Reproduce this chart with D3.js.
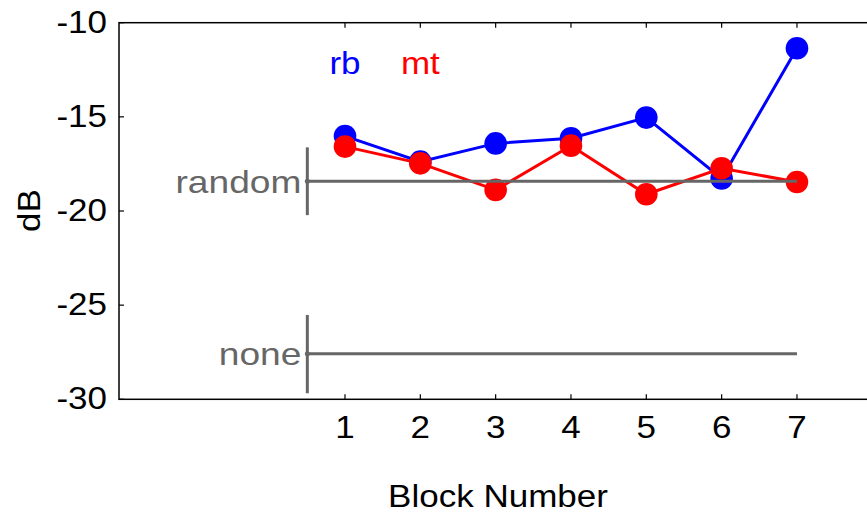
<!DOCTYPE html>
<html>
<head>
<meta charset="utf-8">
<script src="https://cdn.jsdelivr.net/npm/d3@7"></script>
<style>
  body { margin: 0; background: #fff; }
  text { font-family: "Liberation Sans", Arial, sans-serif; }
</style>
</head>
<body>
<div id="chart"></div>
<script>
// data
const blocks = [1, 2, 3, 4, 5, 6, 7];
const rbValues = [-16.02, -17.38, -16.41, -16.14, -15.04, -18.27, -11.36];
const mtValues = [-16.58, -17.47, -18.88, -16.53, -19.11, -17.73, -18.46];
const refNames = ["random", "none"];
const refValues = [-18.42, -27.58];
const refLow = [-20.22, -29.68];
const refHigh = [-16.62, -25.52];
const refStart = 0.5, refEnd = 7;
const yTicks = [-10, -15, -20, -25, -30];

// layout
const W = 867, H = 514;
const margin = { top: 22.7, left: 119 };
const xScale = d3.scaleLinear().domain([-2, 9]).range([margin.left, margin.left + 11 * 75.33]);
const yScale = d3.scaleLinear().domain([-10, -30]).range([margin.top, 399.3]);
const fontSize = 31;
const stretch = 1.13; // fonts in the picture are drawn a bit wider than normal

const svg = d3.select("#chart").append("svg")
  .attr("width", W).attr("height", H);

function label(x, y, txt, opts) {
  opts = opts || {};
  return svg.append("text")
    .attr("transform", "translate(" + x + "," + y + ")" + (opts.rotate ? " rotate(" + opts.rotate + ")" : "") + " scale(" + (opts.stretch || stretch) + ",1)")
    .attr("text-anchor", opts.anchor || "middle")
    .style("font-size", (opts.size || fontSize) + "px")
    .style("fill", opts.color || "#000")
    .text(txt);
}

// axes box
const x0 = xScale.range()[0], x1 = xScale.range()[1];
const y0 = yScale.range()[0], y1 = yScale.range()[1];
svg.append("rect")
  .attr("x", x0).attr("y", y0)
  .attr("width", x1 - x0).attr("height", y1 - y0)
  .attr("fill", "none").attr("stroke", "#000").attr("stroke-width", 1.5);

// ticks (inward, on both sides)
const tickLen = 5;
svg.append("g").selectAll("line").data(blocks).enter().append("line")
  .attr("x1", d => xScale(d)).attr("x2", d => xScale(d))
  .attr("y1", y1).attr("y2", y1 - tickLen)
  .attr("stroke", "#000").attr("stroke-width", 1.2);
svg.append("g").selectAll("line").data(blocks).enter().append("line")
  .attr("x1", d => xScale(d)).attr("x2", d => xScale(d))
  .attr("y1", y0).attr("y2", y0 + tickLen)
  .attr("stroke", "#000").attr("stroke-width", 1.2);
svg.append("g").selectAll("line").data(yTicks).enter().append("line")
  .attr("x1", x0).attr("x2", x0 + tickLen)
  .attr("y1", d => yScale(d)).attr("y2", d => yScale(d))
  .attr("stroke", "#000").attr("stroke-width", 1.2);

// tick labels
blocks.forEach(b => label(xScale(b), 438, String(b)));
yTicks.forEach(v => label(x0 - 12, yScale(v) + 10, String(v), { anchor: "end" }));

// axis titles
label(498, 507, "Block Number");
label(40, 210.5, "dB", { rotate: -90 });

// series lines
const line = d3.line()
  .x((d, i) => xScale(blocks[i]))
  .y(d => yScale(d));

svg.append("path").datum(rbValues)
  .attr("d", line).attr("fill", "none")
  .attr("stroke", "#0000ff").attr("stroke-width", 3);
svg.append("g").selectAll("circle").data(rbValues).enter().append("circle")
  .attr("cx", (d, i) => xScale(blocks[i])).attr("cy", d => yScale(d))
  .attr("r", 11.3).attr("fill", "#0000ff");

svg.append("path").datum(mtValues)
  .attr("d", line).attr("fill", "none")
  .attr("stroke", "#ff0000").attr("stroke-width", 3);
svg.append("g").selectAll("circle").data(mtValues).enter().append("circle")
  .attr("cx", (d, i) => xScale(blocks[i])).attr("cy", d => yScale(d))
  .attr("r", 11.3).attr("fill", "#ff0000");

// reference levels (drawn on top)
const gray = "#666666";
refNames.forEach((name, i) => {
  svg.append("line")
    .attr("x1", xScale(refStart)).attr("x2", xScale(refEnd))
    .attr("y1", yScale(refValues[i])).attr("y2", yScale(refValues[i]))
    .attr("stroke", gray).attr("stroke-width", 3);
  svg.append("line")
    .attr("x1", xScale(refStart)).attr("x2", xScale(refStart))
    .attr("y1", yScale(refLow[i])).attr("y2", yScale(refHigh[i]))
    .attr("stroke", gray).attr("stroke-width", 3);
  svg.append("circle")
    .attr("cx", xScale(refStart)).attr("cy", yScale(refValues[i]))
    .attr("r", 2.5).attr("fill", gray);
  label(xScale(refStart) - 6, yScale(refValues[i]) + 11.5, name,
    { anchor: "end", color: gray, size: 32, stretch: 1.16 });
});

// legend
label(xScale(1), yScale(-12.73), "rb", { color: "#0000ff" });
label(xScale(2), yScale(-12.73), "mt", { color: "#ff0000" });
</script>
</body>
</html>
